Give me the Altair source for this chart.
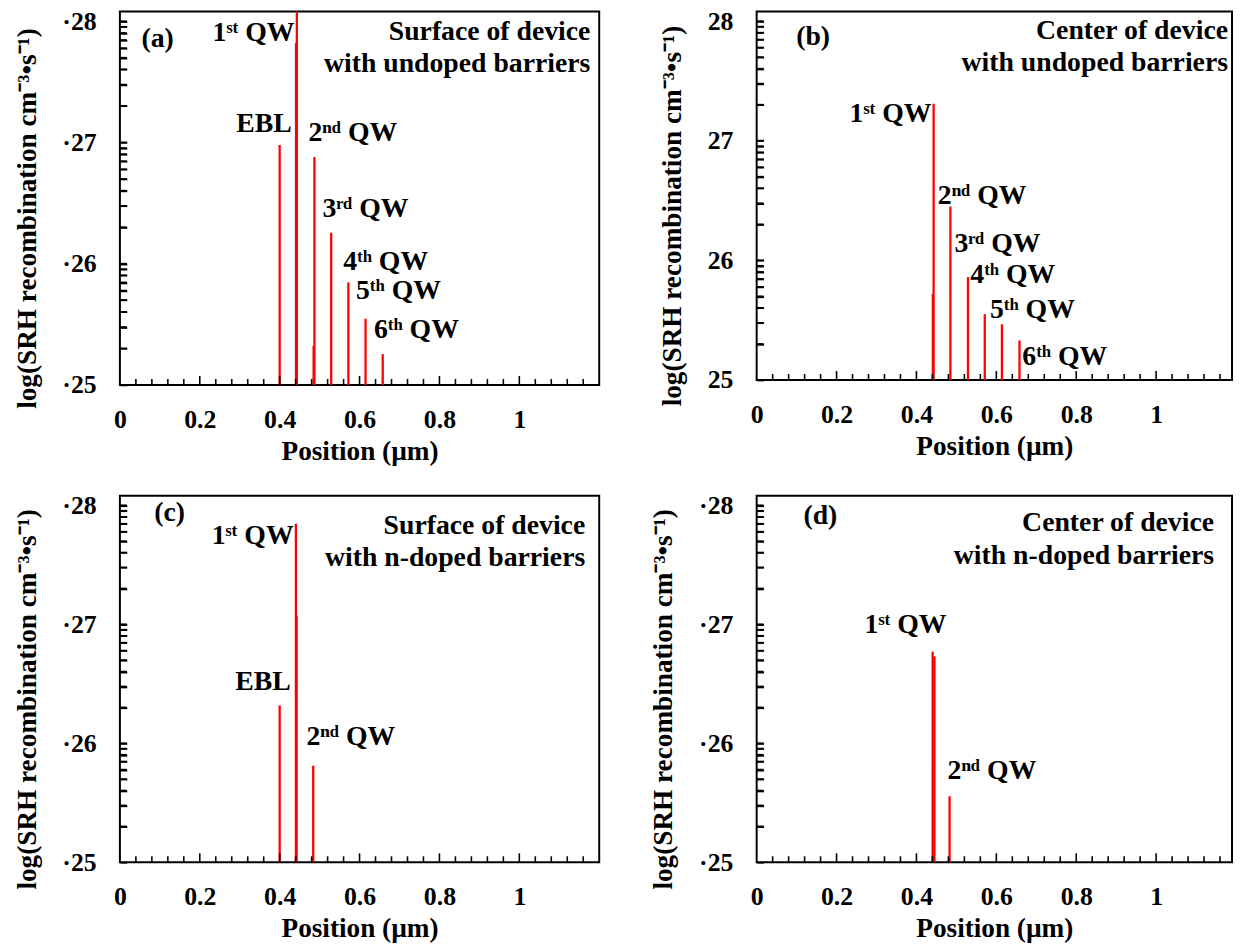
import math
import altair as alt
import pandas as pd

FONT = "Liberation Serif"
RED = "#ff0000"
ANN = 28  # annotation font size

# ---- axes ----
X_LABELS = [0, 0.2, 0.4, 0.6, 0.8, 1]
Y_LABELS = [25, 26, 27, 28]
X_MINOR = [0.04, 0.08, 0.12, 0.16, 0.24, 0.28, 0.32, 0.36, 0.44, 0.48, 0.52, 0.56,
           0.64, 0.68, 0.72, 0.76, 0.84, 0.88, 0.92, 0.96, 1.04, 1.08, 1.12, 1.16]
X_MAJOR = [0.2, 0.4, 0.6, 0.8, 1.0]
Y_MINOR = [round(n + math.log10(k), 4) for n in (25, 26, 27) for k in range(2, 10)]
Y_TITLE = "log(SRH recombination cm\u207b\u00b3\u2022s\u207b\u00b9)"
X_TITLE = "Position (\u00b5m)"

# ---- panel (a): surface, undoped barriers ----
A_POS = [0.400, 0.441, 0.443, 0.485, 0.487, 0.529, 0.572, 0.615, 0.658]
A_PEAK = [26.98, 27.82, 28.10, 25.32, 26.88, 26.255, 25.846, 25.546, 25.254]
A_LBL = ["(a)", "1\u02e2\u1d57 QW", "EBL", "2\u207f\u1d48 QW", "3\u02b3\u1d48 QW",
         "4\u1d57\u02b0 QW", "5\u1d57\u02b0 QW", "6\u1d57\u02b0 QW"]
A_LBL_X = [0.054, 0.232, 0.2916, 0.472, 0.507, 0.559, 0.591, 0.636]
A_LBL_Y = [27.85, 27.90, 27.154, 27.08, 26.45, 26.016, 25.77, 25.455]
A_NOTE = ["Surface of device", "with undoped barriers"]
A_NOTE_X = [1.178, 1.178]
A_NOTE_Y = [27.91, 27.65]

# ---- panel (b): center, undoped barriers ----
B_POS = [0.441, 0.443, 0.485, 0.529, 0.571, 0.614, 0.658]
B_PEAK = [25.72, 27.31, 26.45, 25.86, 25.55, 25.465, 25.33]
B_LBL = ["(b)", "1\u02e2\u1d57 QW", "2\u207f\u1d48 QW", "3\u02b3\u1d48 QW",
         "4\u1d57\u02b0 QW", "5\u1d57\u02b0 QW", "6\u1d57\u02b0 QW"]
B_LBL_X = [0.099, 0.2327, 0.4535, 0.495, 0.535, 0.584, 0.665]
B_LBL_Y = [27.87, 27.22, 26.54, 26.137, 25.877, 25.588, 25.19]
B_NOTE = ["Center of device", "with undoped barriers"]
B_NOTE_X = [1.18, 1.18]
B_NOTE_Y = [27.914, 27.65]

# ---- panel (c): surface, n-doped barriers ----
C_POS = [0.400, 0.4406, 0.4425, 0.484]
C_PEAK = [26.318, 27.845, 27.07, 25.81]
C_LBL = ["(c)", "1\u02e2\u1d57 QW", "EBL", "2\u207f\u1d48 QW"]
C_LBL_X = [0.086, 0.2297, 0.289, 0.467]
C_LBL_Y = [27.933, 27.74, 26.518, 26.05]
C_NOTE = ["Surface of device", "with n-doped barriers"]
C_NOTE_X = [1.165, 1.165]
C_NOTE_Y = [27.825, 27.56]

# ---- panel (d): center, n-doped barriers ----
D_POS = [0.4406, 0.445, 0.483]
D_PEAK = [26.77, 26.73, 25.555]
D_LBL = ["(d)", "1\u02e2\u1d57 QW", "2\u207f\u1d48 QW"]
D_LBL_X = [0.117, 0.27, 0.478]
D_LBL_Y = [27.906, 26.99, 25.77]
D_NOTE = ["Center of device", "with n-doped barriers"]
D_NOTE_X = [1.145, 1.145]
D_NOTE_Y = [27.85, 27.575]

Y_LO, Y_HI = 25, 28.08
YTICK = 7  # inward tick length of the y axis, px


def panel(pos, peak, lbl, lx, ly, note, nx, ny, w, h, xmax, dot):
    xs = alt.Scale(domain=[0, xmax], nice=False, zero=False)
    ys = alt.Scale(domain=[Y_LO, Y_HI], nice=False, zero=False)
    prefix = "'\u00b7' + " if dot else ""
    # y axis pulled inside the frame (negative offset) so that its ticks point inward
    yaxis = alt.Axis(values=sorted(Y_LABELS + Y_MINOR), title=Y_TITLE,
                     ticks=True, tickSize=YTICK, tickWidth=1.8, tickColor="black",
                     offset=-YTICK, labelPadding=24, titlePadding=21, zindex=2,
                     labelFlush=False, labelOverlap=False, titleY=h / 2 + 20,
                     labelExpr="datum.value == round(datum.value) ? " + prefix +
                               "format(datum.value, 'd') : ''")
    xaxis = alt.Axis(values=X_LABELS, title=X_TITLE, format="~g", labelPadding=22,
                     titlePadding=5, labelFlush=False)

    def X(f):
        return alt.X(f, type="quantitative", scale=xs, axis=xaxis)

    def Y(f):
        return alt.Y(f, type="quantitative", scale=ys, axis=yaxis)

    px_x = xmax / w
    px_y = (Y_HI - Y_LO) / h

    spikes = pd.DataFrame({"pos": pos, "peak": peak, "base": [Y_LO] * len(pos)})
    base = alt.Chart(spikes).mark_rule(color=RED, strokeWidth=2.3, clip=True).encode(
        x=X("pos"), y=Y("peak"), y2="base:Q")

    def xtick(vals, length):
        df = pd.DataFrame({"v": vals, "a": [Y_LO] * len(vals), "b": [Y_LO + length * px_y] * len(vals)})
        return alt.Chart(df).mark_rule(color="black", strokeWidth=1.6).encode(
            x=X("v"), y=Y("a"), y2="b:Q")

    # inward y ticks, also drawn as short line segments (two points per tick)
    yvals = sorted(Y_LABELS[1:] + Y_MINOR)
    seg = pd.DataFrame({
        "id": [i for i in range(len(yvals)) for _ in (0, 1)],
        "yy": [v for v in yvals for _ in (0, 1)],
        "xx": [e for _ in yvals for e in (0.0, YTICK * px_x)],
    })
    ytk = alt.Chart(seg).mark_line(color="black", strokeWidth=1.8).encode(
        x=X("xx"), y=Y("yy"), detail="id:N")

    labels = alt.Chart(pd.DataFrame({"t": lbl, "x": lx, "y": ly})).mark_text(
        align="left", baseline="middle", font=FONT, fontWeight="bold", fontSize=ANN, color="black"
    ).encode(x=X("x"), y=Y("y"), text="t:N")
    notes = alt.Chart(pd.DataFrame({"t": note, "x": nx, "y": ny})).mark_text(
        align="right", baseline="middle", font=FONT, fontWeight="bold", fontSize=ANN, color="black"
    ).encode(x=X("x"), y=Y("y"), text="t:N")
    return alt.layer(
        base, xtick(X_MINOR, 6), xtick(X_MAJOR, 9), labels, notes, ytk
    ).properties(width=w, height=h)


pa = panel(A_POS, A_PEAK, A_LBL, A_LBL_X, A_LBL_Y, A_NOTE, A_NOTE_X, A_NOTE_Y, 484, 377, 1.2, True)
pb = panel(B_POS, B_PEAK, B_LBL, B_LBL_X, B_LBL_Y, B_NOTE, B_NOTE_X, B_NOTE_Y, 480, 372, 1.19, False)
pc = panel(C_POS, C_PEAK, C_LBL, C_LBL_X, C_LBL_Y, C_NOTE, C_NOTE_X, C_NOTE_Y, 484, 370, 1.2, True)
pd_ = panel(D_POS, D_PEAK, D_LBL, D_LBL_X, D_LBL_Y, D_NOTE, D_NOTE_X, D_NOTE_Y, 480, 370, 1.19, True)

chart = alt.concat(
    pa, pb, pc, pd_, columns=2, spacing={"row": 112, "column": 159}, bounds="flush"
).properties(
    padding={"left": 4, "top": -6, "right": 0, "bottom": 0}
).configure_view(
    stroke="black", strokeWidth=2, fill="transparent"
).configure_axis(
    grid=False, ticks=False, domain=False,
    labelFont=FONT, labelFontWeight="bold", labelFontSize=26, labelColor="black",
    titleFont=FONT, titleFontWeight="bold", titleFontSize=27.5, titleColor="black",
)

chart.save("out.html", embed_options={"renderer": "svg", "actions": False})
